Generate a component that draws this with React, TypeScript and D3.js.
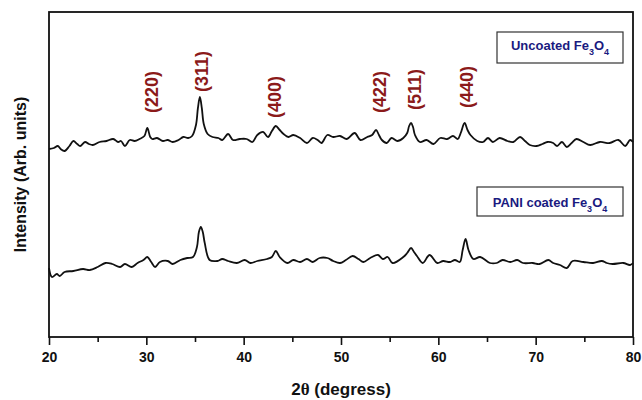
import React, { useEffect, useRef } from 'react';
import * as d3 from 'd3';

// [2θ, intensity]
const uncoated: [number, number][] = [
  [20.0, 188], [20.5, 189], [20.9, 191], [21.2, 188], [21.6, 186], [22.1, 191], [22.5, 196],
  [22.9, 193], [23.2, 191], [23.7, 195], [24.1, 193], [24.5, 192], [25.2, 195], [25.9, 196],
  [26.6, 198], [27.1, 195], [27.4, 196], [27.8, 191], [28.3, 197], [28.8, 196], [29.3, 198],
  [29.8, 201], [30.1, 209], [30.4, 200], [30.6, 198], [31.1, 199], [31.7, 196], [32.2, 197],
  [32.7, 195], [33.3, 197], [33.8, 200], [34.3, 199], [34.7, 201], [35.1, 212], [35.3, 229],
  [35.5, 240], [35.7, 229], [35.9, 213], [36.3, 203], [36.8, 200], [37.4, 199], [37.8, 197],
  [38.4, 203], [38.9, 197], [39.6, 198], [40.3, 198], [40.9, 195], [41.4, 202], [42.0, 205],
  [42.5, 200], [42.9, 206], [43.3, 211], [43.7, 207], [44.1, 203], [44.6, 200], [45.1, 202],
  [45.8, 199], [46.5, 194], [47.1, 199], [47.6, 197], [48.0, 194], [48.6, 202], [49.2, 200],
  [49.9, 201], [50.6, 198], [51.4, 204], [52.0, 197], [52.7, 200], [53.2, 202], [53.6, 207],
  [53.9, 202], [54.2, 197], [54.7, 194], [55.2, 199], [55.8, 196], [56.4, 199], [56.8, 204],
  [57.0, 211], [57.2, 214], [57.4, 210], [57.6, 202], [58.1, 195], [58.8, 197], [59.5, 193],
  [60.2, 199], [60.9, 198], [61.5, 201], [62.0, 198], [62.3, 204], [62.7, 214], [63.0, 207],
  [63.3, 202], [64.0, 196], [64.6, 195], [65.1, 199], [65.6, 195], [66.3, 199], [67.1, 196],
  [67.7, 195], [68.4, 200], [68.9, 196], [69.4, 192], [70.1, 191], [70.7, 193], [71.2, 195],
  [71.8, 194], [72.2, 191], [72.7, 195], [73.2, 190], [73.7, 194], [74.2, 198], [74.9, 195],
  [75.6, 192], [76.6, 195], [77.6, 194], [78.5, 197], [79.2, 191], [79.7, 197], [80.0, 195],
];

const paniCoated: [number, number][] = [
  [20.0, 69], [20.3, 60], [20.8, 63], [21.1, 61], [21.6, 65], [22.5, 66], [23.5, 68],
  [24.2, 67], [25.0, 70], [25.8, 74], [26.5, 73], [27.3, 70], [27.8, 73], [28.5, 70],
  [29.1, 74], [29.7, 77], [30.1, 80], [30.5, 75], [30.9, 70], [31.4, 75], [32.2, 76],
  [32.7, 73], [33.5, 77], [34.2, 79], [34.8, 80], [35.2, 90], [35.4, 105], [35.6, 110],
  [35.8, 105], [36.0, 94], [36.5, 77], [37.3, 76], [37.8, 78], [38.4, 76], [39.3, 74],
  [40.1, 77], [40.7, 74], [41.4, 76], [42.4, 78], [42.9, 80], [43.3, 86], [43.7, 80],
  [44.5, 74], [45.1, 77], [45.8, 75], [46.5, 78], [47.1, 75], [47.8, 79], [48.6, 79],
  [49.2, 76], [49.9, 74], [50.5, 77], [51.2, 81], [51.8, 78], [52.3, 75], [53.0, 79],
  [53.8, 82], [54.3, 78], [54.8, 80], [55.3, 74], [56.4, 80], [56.8, 84], [57.2, 89],
  [57.5, 85], [57.8, 81], [58.4, 74], [59.1, 82], [59.9, 74], [60.5, 76], [61.2, 75],
  [61.7, 77], [62.2, 75], [62.5, 87], [62.8, 98], [63.1, 87], [63.6, 78], [64.3, 80],
  [65.3, 74], [66.0, 74], [66.6, 77], [67.4, 75], [68.1, 77], [68.7, 74], [69.7, 74],
  [70.4, 73], [71.3, 77], [71.8, 74], [72.5, 72], [73.2, 69], [73.8, 76], [74.9, 75],
  [75.9, 74], [76.8, 76], [77.3, 74], [77.9, 73], [79.0, 74], [79.7, 72], [80.0, 74],
];

// reflections (hkl), where the label sits in 2θ and the intensity level of its bottom
const peakLabels = ['(220)', '(311)', '(400)', '(422)', '(511)', '(440)'];
const peakLabelTheta = [30.6, 35.7, 43.2, 54.0, 57.6, 62.9];
const peakLabelLevel = [224, 245, 219, 224, 227, 229];

const xMajorTicks = [20, 30, 40, 50, 60, 70, 80];
const xMinorTicks = [25, 35, 45, 55, 65, 75];

const width = 642;
const height = 400;
const margin = { top: 12, right: 9, bottom: 63, left: 49 };
const font = 'Arial, "Liberation Sans", sans-serif';

export default function App() {
  const axisRef = useRef<SVGGElement | null>(null);

  const x = d3.scaleLinear().domain([20, 80]).range([margin.left, width - margin.right]);
  const y = d3.scaleLinear().domain([0, 325]).range([height - margin.bottom, margin.top]);

  const line = d3.line<[number, number]>()
    .x(d => x(d[0]))
    .y(d => y(d[1]))
    .curve(d3.curveCatmullRom.alpha(0.5));

  useEffect(() => {
    if (!axisRef.current) return;
    const g = d3.select(axisRef.current);
    g.selectAll('*').remove();

    const major = g.append('g')
      .call(d3.axisBottom(x).tickValues(xMajorTicks).tickSize(8).tickSizeOuter(0).tickFormat(d3.format('d')));
    major.select('.domain').remove();
    major.selectAll('line').attr('stroke', '#111').attr('stroke-width', 1.6);
    major.selectAll('text')
      .attr('y', 15)
      .attr('fill', '#111')
      .style('font-family', font)
      .style('font-size', '14px')
      .style('font-weight', 'bold');

    const minor = g.append('g')
      .call(d3.axisBottom(x).tickValues(xMinorTicks).tickSize(5).tickFormat(() => ''));
    minor.select('.domain').remove();
    minor.selectAll('line').attr('stroke', '#111').attr('stroke-width', 1.6);
  }, []);

  const plotW = width - margin.left - margin.right;
  const plotH = height - margin.top - margin.bottom;

  return (
    <svg width={width} height={height} style={{ position: 'absolute', left: 0, top: 0, background: '#fff' }}>
      <path d={line(uncoated) || ''} fill="none" stroke="#111" strokeWidth={1.8} strokeLinejoin="round" />
      <path d={line(paniCoated) || ''} fill="none" stroke="#111" strokeWidth={1.8} strokeLinejoin="round" />

      <rect x={margin.left} y={margin.top} width={plotW} height={plotH} fill="none" stroke="#111" strokeWidth={1.8} />
      <g ref={axisRef} transform={`translate(0,${height - margin.bottom})`} />

      {peakLabels.map((lbl, i) => (
        <text
          key={lbl}
          transform={`translate(${x(peakLabelTheta[i])},${y(peakLabelLevel[i])}) rotate(-90)`}
          dominantBaseline="central"
          fill="#8b1a1a"
          fontFamily={font}
          fontSize={18}
          fontWeight="bold"
        >{lbl}</text>
      ))}

      <rect x={497} y={32} width={126} height={31} fill="#fff" stroke="#333" strokeWidth={1.2} />
      <text x={560} y={50} textAnchor="middle" fill="#1a1a80" fontFamily={font} fontSize={13} fontWeight="bold">
        Uncoated Fe<tspan fontSize={9} dy={5}>3</tspan><tspan dy={-5}>O</tspan><tspan fontSize={9} dy={5}>4</tspan>
      </text>

      <rect x={477} y={187} width={146} height={29} fill="#fff" stroke="#333" strokeWidth={1.2} />
      <text x={550} y={207} textAnchor="middle" fill="#1a1a80" fontFamily={font} fontSize={13} fontWeight="bold">
        PANI coated Fe<tspan fontSize={9} dy={5}>3</tspan><tspan dy={-5}>O</tspan><tspan fontSize={9} dy={5}>4</tspan>
      </text>

      <text
        transform={`translate(20,${margin.top + plotH / 2}) rotate(-90)`}
        textAnchor="middle"
        dominantBaseline="central"
        fill="#111"
        fontFamily={font}
        fontSize={16}
        fontWeight="bold"
      >Intensity (Arb. units)</text>

      <text x={margin.left + plotW / 2} y={395} textAnchor="middle" fill="#111" fontFamily={font} fontSize={17} fontWeight="bold">
        2<tspan fontFamily={'"Liberation Serif", "Times New Roman", serif'}>θ</tspan> (degress)
      </text>
    </svg>
  );
}
